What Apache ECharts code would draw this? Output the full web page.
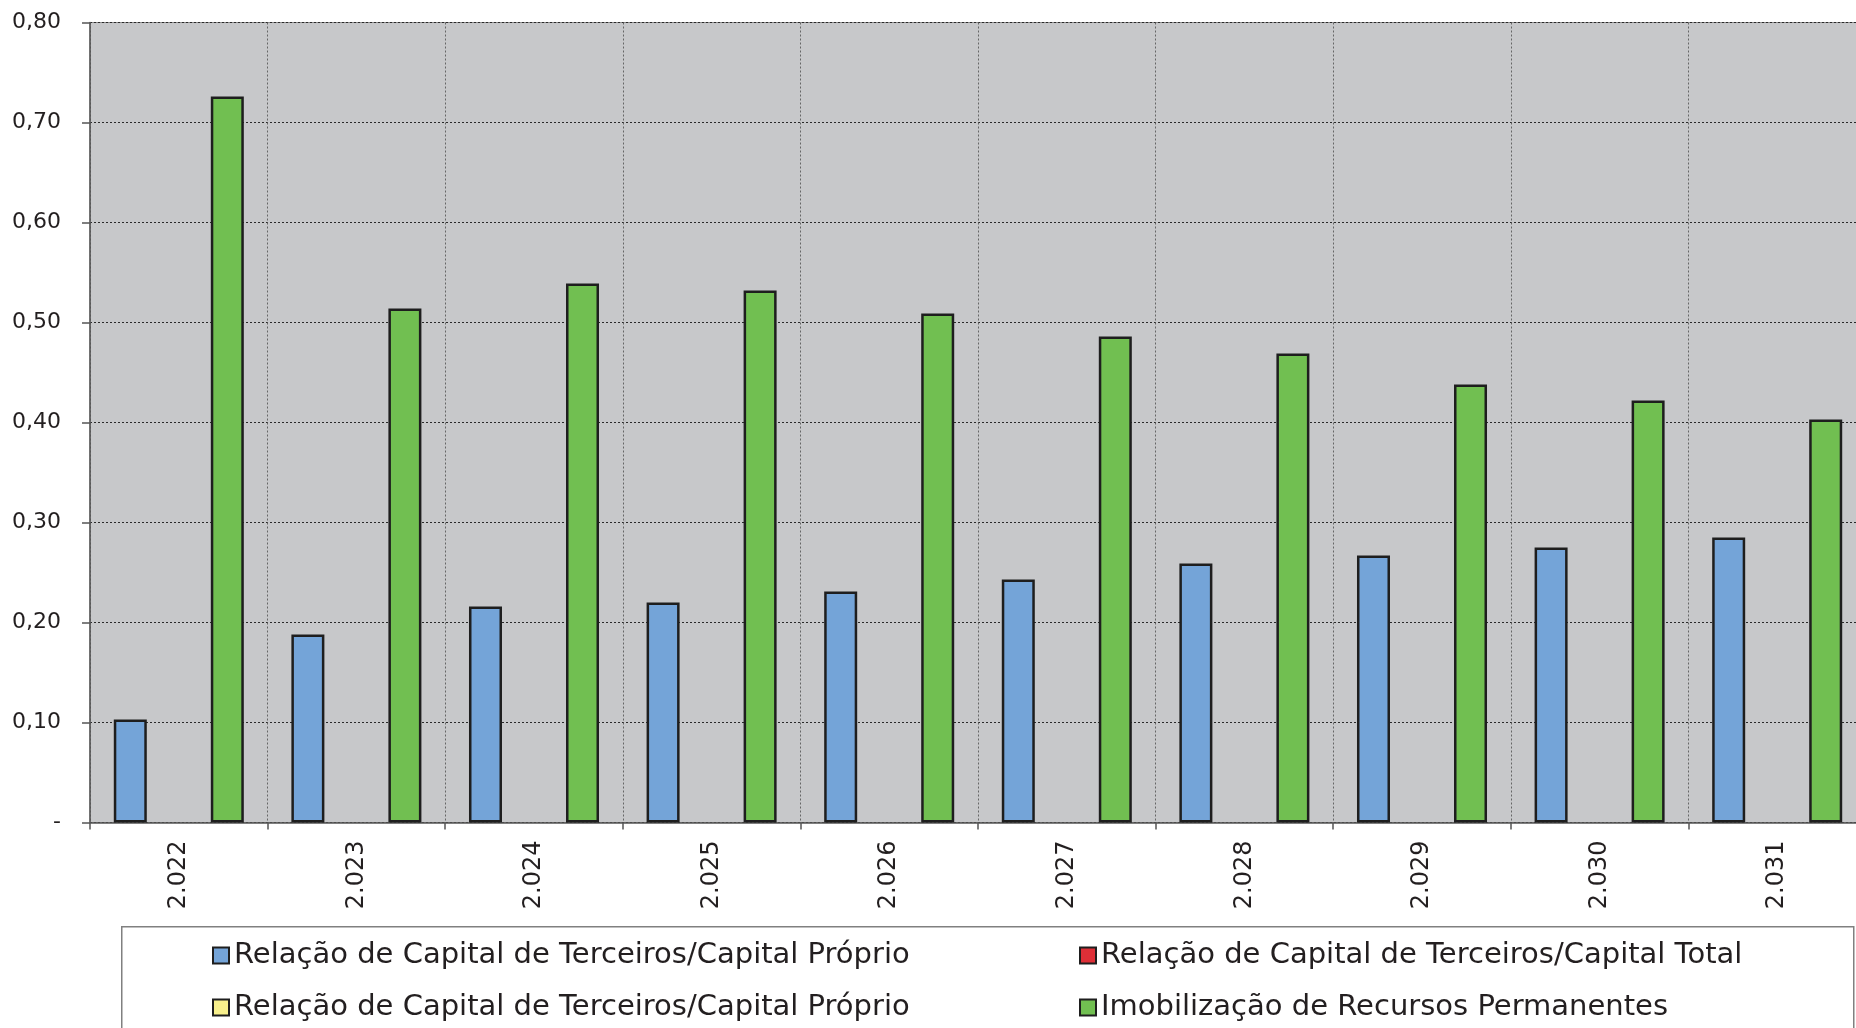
<!DOCTYPE html>
<html>
<head>
<meta charset="utf-8">
<script src="https://cdn.jsdelivr.net/npm/echarts@6/dist/echarts.min.js"></script>
<style>
html,body{margin:0;padding:0;background:#fff;}
#chart{width:1856px;height:1028px;}
</style>
</head>
<body>
<div id="chart"></div>
<script>
const categories = ['2.022','2.023','2.024','2.025','2.026','2.027','2.028','2.029','2.030','2.031'];
const yTickLabels = ['-','0,10','0,20','0,30','0,40','0,50','0,60','0,70','0,80'];
const seriesNames = [
  'Relação de Capital de Terceiros/Capital Próprio',
  'Relação de Capital de Terceiros/Capital Total',
  'Relação de Capital de Terceiros/Capital Próprio',
  'Imobilização de Recursos Permanentes'
];
const capTercProprio = [0.103,0.188,0.216,0.220,0.231,0.243,0.259,0.267,0.275,0.285];
const capTercTotal = [null,null,null,null,null,null,null,null,null,null];
const capTercProprio2 = [null,null,null,null,null,null,null,null,null,null];
const imobRecursos = [0.726,0.514,0.539,0.532,0.509,0.486,0.469,0.438,0.422,0.403];

const colors = ['#74a4d8','#de2f37','#f8f08c','#71bf51'];
const ids = ['s0','s1','s2','s3'];
const dataSets = [capTercProprio, capTercTotal, capTercProprio2, imobRecursos];
const labelMap = {};
ids.forEach((id,i)=>{ labelMap[id] = seriesNames[i]; });

const chart = echarts.init(document.getElementById('chart'));
const FONT = 'DejaVu Sans';
const legendPos = [[212,941],[1079,941],[212,993],[1079,993]];

const option = {
  animation: false,
  backgroundColor: '#ffffff',
  textStyle: { fontFamily: FONT, color: '#231f20' },
  grid: {
    left: 90, top: 22.5, width: 1776, height: 800,
    outerBoundsMode: 'none',
    show: true, backgroundColor: '#c7c8ca', borderColor: '#8a8a8a', borderWidth: 1,
    containLabel: false
  },
  graphic: [{
    type: 'rect', left: 121, top: 926, z: -1,
    shape: { width: 1732, height: 140 },
    style: { fill: '#ffffff', stroke: '#808080', lineWidth: 1.5 }
  }],
  legend: ids.map((id,i)=>({
    data: [id],
    left: legendPos[i][0], top: legendPos[i][1],
    padding: 0, itemWidth: 16, itemHeight: 16, itemGap: 0,
    icon: 'rect',
    selectedMode: false,
    itemStyle: { borderColor: '#1e1e1e', borderWidth: 2 },
    textStyle: { fontFamily: FONT, fontSize: 29, color: '#231f20', lineHeight: 29 },
    formatter: (n)=>labelMap[n]
  })),
  xAxis: {
    type: 'category',
    data: categories,
    boundaryGap: true,
    axisLine: { show: true, lineStyle: { color: '#555555', width: 1.5 } },
    axisTick: { show: true, length: 7, lineStyle: { color: '#555555', width: 1.5 } },
    axisLabel: { rotate: 90, margin: 18, fontFamily: FONT, fontSize: 24, color: '#231f20' },
    splitLine: { show: true, lineStyle: { color: '#666666', type: [2,2], width: 1 } }
  },
  yAxis: {
    type: 'value',
    min: 0, max: 0.8, interval: 0.1,
    axisLine: { show: true, lineStyle: { color: '#555555', width: 1.5 } },
    axisTick: { show: true, length: 8, lineStyle: { color: '#555555', width: 1.5 } },
    axisLabel: {
      margin: 29, fontFamily: FONT, fontSize: 22, color: '#231f20',
      formatter: (v)=> yTickLabels[Math.round(v*10)]
    },
    splitLine: { show: true, lineStyle: { color: '#2a2a2a', type: [2,2], width: 1 } }
  },
  series: ids.map((id,i)=>({
    type: 'bar',
    name: id,
    data: dataSets[i],
    barWidth: 33,
    barGap: '-2%',
    itemStyle: { color: colors[i], borderColor: '#1e1e1e', borderWidth: 2.5 }
  }))
};
chart.setOption(option);
</script>
</body>
</html>
